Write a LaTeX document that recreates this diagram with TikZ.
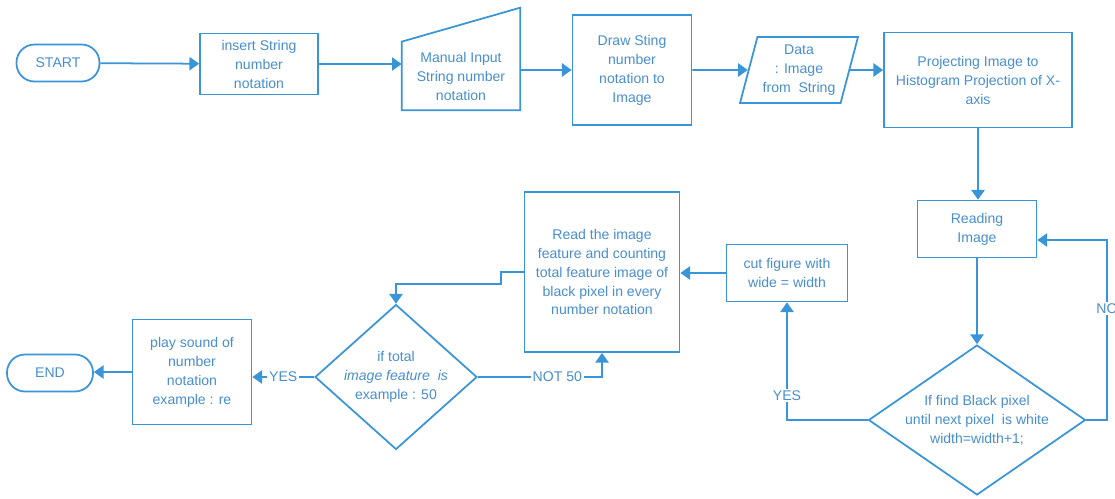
\documentclass[tikz,border=0pt]{standalone}
\usepackage{fontspec}
\setmainfont{Liberation Sans}
\usepackage{tikz}
\usetikzlibrary{arrows.meta,calc,shapes.geometric}
\definecolor{flowblue}{RGB}{58,148,216}
\definecolor{flowtext}{RGB}{72,142,206}

\begin{document}
\begin{tikzpicture}[x=0.02cm, y=-0.02cm,
  every node/.style={font=\fontsize{8}{10.8}\selectfont, text=flowtext, align=center},
  box/.style={draw=flowblue, line width=1pt, rectangle, inner sep=1pt},
  term/.style={draw=flowblue, line width=1pt, rectangle, rounded corners=0.36cm, minimum width=1.66cm, minimum height=0.74cm},
  decide/.style={draw=flowblue, line width=1pt, diamond, inner sep=0pt},
  flow/.style={draw=flowblue, line width=1pt, -{Triangle[width=7.5pt,length=5.5pt]}},
  lbl/.style={fill=white, inner sep=1pt}]
   \useasboundingbox (0,0) rectangle (1115,498);

   \node[term] (start) at (58,63) {START};
   \node[box, minimum width=2.36cm, minimum height=1.22cm] (insert) at (259,64) {insert String\\number\\notation};
   \node[minimum width=2.36cm, minimum height=1.36cm, inner sep=1pt] (manual) at (461,76) {Manual Input\\String number\\notation};
   \draw[flowblue, line width=1pt] (manual.south west) -- (manual.north west) -- ($(manual.north east)+(0,-34)$) -- (manual.south east) -- cycle;
   \node[box, minimum width=2.38cm, minimum height=2.2cm] (drawimg) at (632,70) {Draw Sting\\number\\notation to\\Image};
   \node[trapezium, trapezium left angle=71, trapezium right angle=109, trapezium stretches body,
         draw=flowblue, line width=1pt, minimum width=2.36cm, minimum height=1.32cm, inner sep=0pt] (data) at (799,70) {Data\\: Image\\from~~String};
   \node[box, minimum width=3.76cm, minimum height=1.9cm] (proj) at (978,80) {Projecting Image to\\Histogram Projection of X-\\axis};
   \node[box, minimum width=2.38cm, minimum height=1.14cm] (reading) at (977,229) {Reading\\Image};
   \node[decide, aspect=1.45, minimum width=4.34cm, minimum height=3cm] (find) at (977,420) {If find Black pixel\\until next pixel~ is white\\width=width+1;};
   \node[box, minimum width=2.42cm, minimum height=1.14cm] (cut) at (787,273) {cut figure with\\wide = width};
   \node[box, minimum width=3.1cm, minimum height=3.2cm] (feature) at (602,272) {Read the image\\feature and counting\\total feature image of\\black pixel in every\\number notation};
   \node[decide, aspect=1.12, minimum width=3.24cm, minimum height=2.9cm] (total) at (396,377) {if total\\\textit{image feature~ is}\\example : 50};
   \node[box, minimum width=2.38cm, minimum height=2.1cm] (play) at (192,372) {play sound of\\number\\notation\\example : re};
   \node[term, minimum width=1.72cm] (end) at (50,373) {END};
   \coordinate (noturn) at (1107,240);

   \draw[flow] (start) -- (insert);
   \draw[flow] (insert.east) -- (insert.east -| manual.west);
   \draw[flow] (manual.east |- drawimg.west) -- (drawimg.west);
   \draw[flow] (drawimg.east) -- (data);
   \draw[flow] (data.east) -- (data.east -| proj.west);
   \draw[flow] (proj.south) -- (proj.south |- reading.north);
   \draw[flow] (reading) -- (find);
   \draw[flow] (find.east) -| node[lbl, pos=0.81] {NO} (noturn) -- (noturn -| reading.east);
   \draw[flow] (find.west) -| node[lbl, pos=0.605] {YES} (cut.south);
   \draw[flow] (cut.west) -- (cut.west -| feature.east);
   \draw[flow] (feature.west) -- ++(-23,0) -- ++(0,12) -| (total.north);
   \draw[flow] (total.east) -| node[lbl, pos=0.32] {NOT 50} (feature.south);
   \draw[flow] (total.west) -- node[lbl, pos=0.5] {YES} (total.west -| play.east);
   \draw[flow] (play.west) -- (play.west -| end.east);
\end{tikzpicture}
\end{document}
